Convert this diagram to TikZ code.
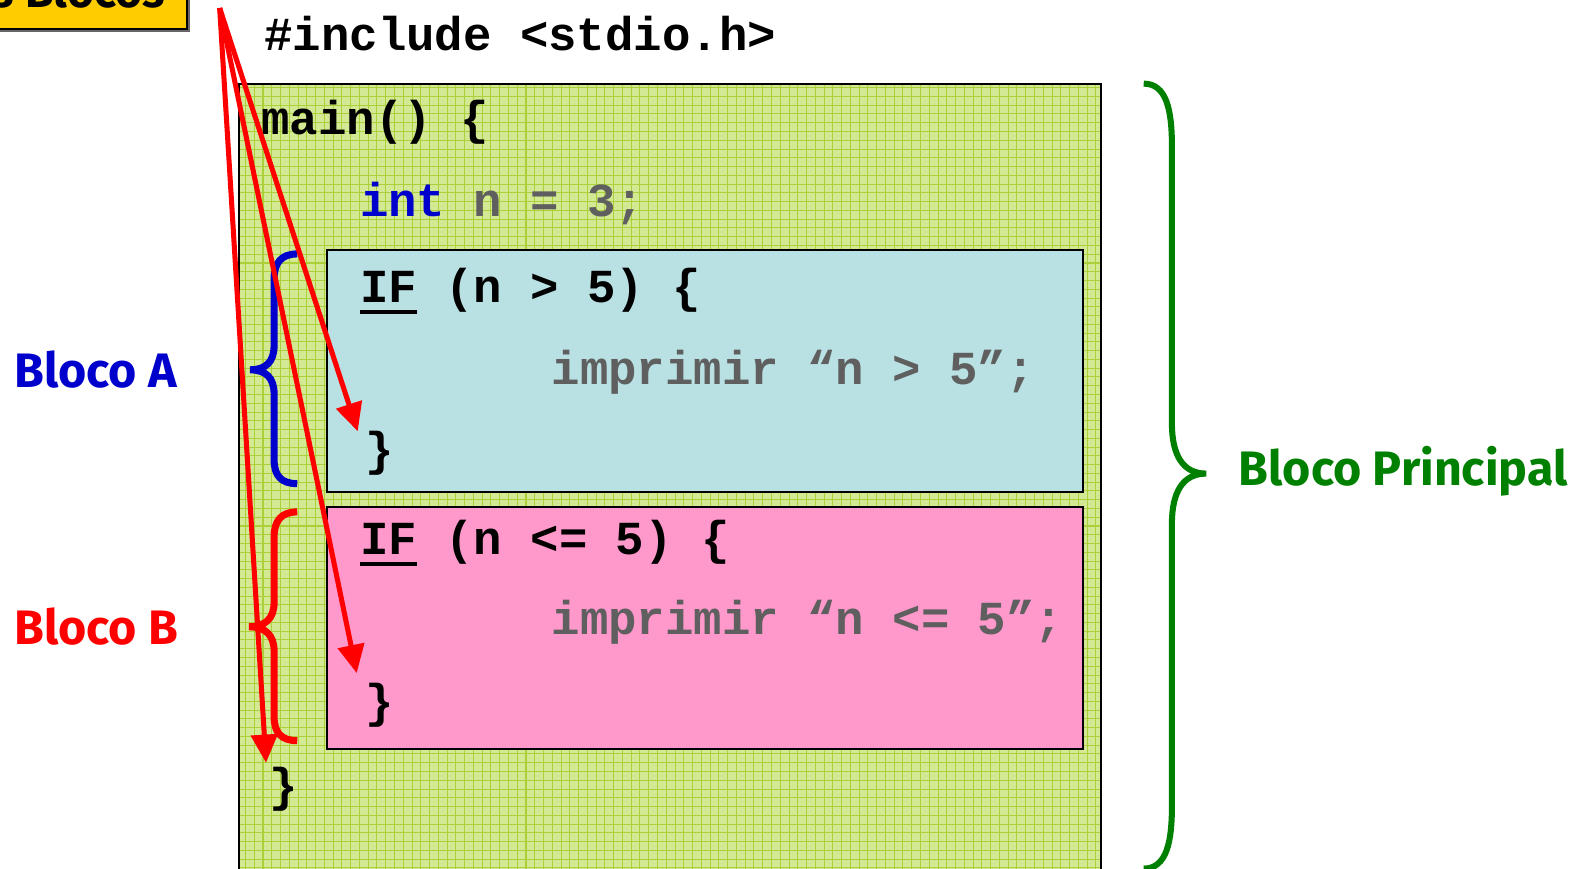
\documentclass[tikz,border=0pt]{standalone}
\usepackage{fontspec}
\usepackage{xcolor}
\usepackage{tikz}
\usetikzlibrary{
  arrows.meta,
  positioning,
  shadows,
}
\newfontfamily\codefont{Liberation Mono}
\newfontfamily\labelfont{Fira Sans}
\definecolor{gridbg}{HTML}{D4E993}
\definecolor{gridline}{HTML}{ACD03A}
\definecolor{ifbluebg}{HTML}{B9E0E3}
\definecolor{ifpinkbg}{HTML}{FF99CC}
\definecolor{tagyellow}{HTML}{FFCC00}
\definecolor{kwblue}{HTML}{0000CC}
\definecolor{codegray}{HTML}{5F5F5F}
\definecolor{blocored}{HTML}{FF0000}
\definecolor{blocogreen}{HTML}{008000}
\newcommand{\ifkw}{\rlap{\rule[-6pt]{28.2pt}{2pt}}IF}

\begin{document}
\begin{tikzpicture}[
    x=0.5pt, y=-0.5pt,
    code/.style={font=\codefont\bfseries\fontsize{23.5}{28}\selectfont,
                 anchor=base west, inner sep=0pt},
    blocolabel/.style={font=\labelfont\bfseries\fontsize{24}{28}\selectfont,
                       anchor=west, inner sep=0pt},
    tagbox/.style={draw=black, fill=tagyellow, line width=1pt,
                   font=\labelfont\bfseries\fontsize{23}{28}\selectfont,
                   inner xsep=11pt, inner ysep=0pt, text depth=11pt,
                   drop shadow={shadow xshift=1.5pt, shadow yshift=-1.5pt,
                                fill=black!60, opacity=1}},
    ifbox/.style={draw=black, line width=1pt},
    bracket/.style={line width=3.5pt},
    pointer/.style={draw=blocored, line width=2.5pt,
                    -{Triangle[length=14pt, width=13pt]}},
  ]
  \useasboundingbox (0,0) rectangle (1568,862);
  \clip (0,0) rectangle (1568,862);
  \fill[white] (0,0) rectangle (1568,862);

  % bloco principal
  \fill[gridbg] (237,83) rectangle (1093,880);
  \draw[gridline, line width=0.5pt, step=4.35pt] (237,880) grid (1093,83);
  \draw[line width=1pt] (237,880) |- (1093,83) -- (1093,880);

  % blocos A e B
  \filldraw[ifbox, fill=ifbluebg] (325,248) rectangle (1075,488);
  \filldraw[ifbox, fill=ifpinkbg] (325,503) rectangle (1075,743);

  \node[tagbox, anchor=south east] (title) at (187,30) {Os Blocos};

  \node[code] (incl)      at (262,50)  {\#include <stdio.h>};
  \node[code] (mainline)  at (259,133) {main() \{};
  \node[code] (intline)   at (357,215) {\textcolor{kwblue}{int} \textcolor{codegray}{n = 3;}};
  \node[code] (ifA)       at (357,300) {\ifkw{} (n > 5) \{};
  \node[code, codegray] (printA) at (547,382) {imprimir “n > 5”;};
  \node[code] (closeA)    at (362,462) {\}};
  \node[code] (ifB)       at (357,550) {\ifkw{} (n <= 5) \{};
  \node[code, codegray] (printB) at (547,630) {imprimir “n <= 5”;};
  \node[code] (closeB)    at (362,712) {\}};
  \node[code] (closemain) at (267,795) {\}};

  \node[blocolabel, kwblue]     (blocoA)    at (14,367)   {Bloco A};
  \node[blocolabel, blocored]   (blocoB)    at (14,622)   {Bloco B};
  \node[blocolabel, blocogreen] (principal) at (1229,468) {Bloco Principal};

  % chaves
  \draw[bracket, kwblue] (295,252) .. controls (279,252) and (272,261) .. (272,277)
    -- (272,343) .. controls (272,359) and (264,367) .. (248,367)
    .. controls (264,367) and (272,375) .. (272,391)
    -- (272,456) .. controls (272,472) and (279,480) .. (295,480);
  \draw[bracket, blocored] (295,508) .. controls (279,508) and (272,517) .. (272,533)
    -- (272,598) .. controls (272,614) and (263,622) .. (247,622)
    .. controls (263,622) and (272,630) .. (272,646)
    -- (272,711) .. controls (272,727) and (279,735) .. (295,735);
  \draw[bracket, blocogreen, line width=3pt] (1135,83) .. controls (1158,83) and (1163,110) .. (1163,145)
    -- (1163,420) .. controls (1163,452) and (1174,470) .. (1197,470)
    .. controls (1174,470) and (1163,488) .. (1163,520)
    -- (1163,800) .. controls (1163,835) and (1158,862) .. (1135,862);

  % setas
  \coordinate (apex) at (218,8);
  \coordinate (tipA) at (355,428);
  \coordinate (tipB) at (354,668);
  \coordinate (tipM) at (264,757);
  \draw[pointer] (apex) -- (tipA);
  \draw[pointer] (apex) -- (tipB);
  \draw[pointer] (apex) -- (tipM);
\end{tikzpicture}
\end{document}
